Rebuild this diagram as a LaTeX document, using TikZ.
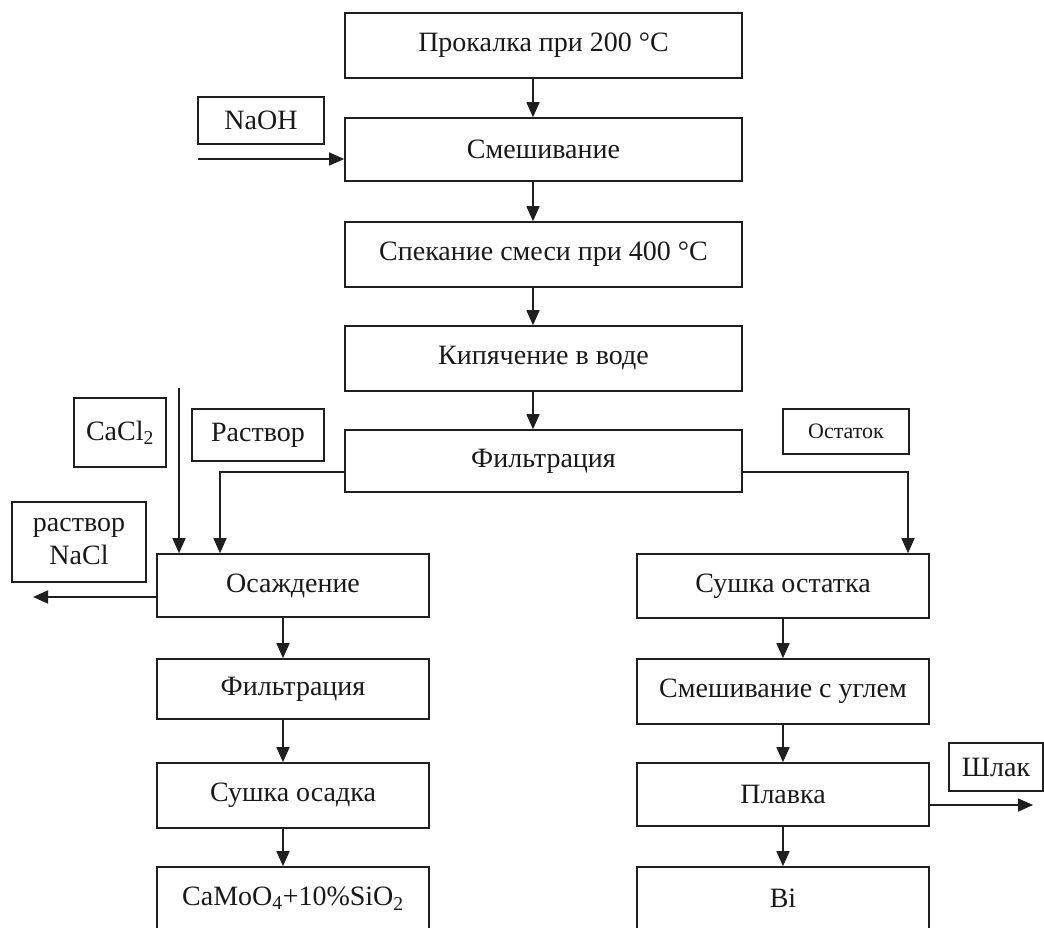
\documentclass[tikz,border=0pt]{standalone}
\usepackage{fontspec}
\setmainfont{Liberation Serif}
\usetikzlibrary{arrows.meta,calc}
\begin{document}
\begin{tikzpicture}[x=1pt,y=-1pt,
  box/.style={draw=black!88,line width=1.6pt,inner sep=0pt,align=center,
    font=\fontsize{28}{33}\selectfont,text=black!90},
  smallbox/.style={box,font=\fontsize{22}{26}\selectfont},
  arr/.style={draw=black!88,line width=1.6pt,-{Triangle[length=15pt,width=13pt]}},
  ln/.style={draw=black!88,line width=1.6pt}]
\useasboundingbox (0,0) rectangle (1044,927);
\clip (0,0) rectangle (1044,927);
% main column
\node[box,minimum width=397,minimum height=65] (p1) at (543.5,45.5) {Прокалка при 200 °C};
\node[box,minimum width=397,minimum height=63] (p2) at (543.5,149.5) {Смешивание};
\node[box,minimum width=397,minimum height=65] (p3) at (543.5,254.5) {Спекание смеси при 400 °C};
\node[box,minimum width=397,minimum height=65] (p4) at (543.5,358.5) {Кипячение в воде};
\node[box,minimum width=397,minimum height=62] (p5) at (543.5,461) {Фильтрация};
\node[box,minimum width=126,minimum height=47] (naoh) at (261,120.5) {NaOH};
% left column
\node[box,minimum width=272,minimum height=63] (l1) at (293,585.5) {Осаждение};
\node[box,minimum width=272,minimum height=60] (l2) at (293,689) {Фильтрация};
\node[box,minimum width=272,minimum height=65] (l3) at (293,795.5) {Сушка осадка};
\node[box,minimum width=272,minimum height=63] (l4) at (293,898.5) {CaMoO\textsubscript{4}+10\%SiO\textsubscript{2}};
\node[box,minimum width=92,minimum height=69] (cacl) at (120,432.5) {CaCl\textsubscript{2}};
\node[box,minimum width=132,minimum height=52] (rastv) at (258,435) {Раствор};
\node[box,minimum width=134,minimum height=80] (nacl) at (79,542) {раствор\\NaCl};
% right column
\node[box,minimum width=292,minimum height=64] (r1) at (783,586) {Сушка остатка};
\node[box,minimum width=292,minimum height=65] (r2) at (783,691.5) {Смешивание с углем};
\node[box,minimum width=292,minimum height=63] (r3) at (783,794.5) {Плавка};
\node[box,minimum width=292,minimum height=63] (r4) at (783,898.5) {Bi};
\node[smallbox,minimum width=126,minimum height=45] (ost) at (846,431.5) {Остаток};
\node[box,minimum width=94,minimum height=48] (shlak) at (996,767) {Шлак};
% coordinates
\coordinate (ax) at (533,0);
\coordinate (lx) at (283,0);
\coordinate (naohin) at (198,159);
\coordinate (caclin) at (179,388);
\coordinate (rastvx) at (220,472);
\coordinate (ostx) at (908,472);
\coordinate (naclout) at (33,597);
\coordinate (shlakout) at (1033,805);
% main arrows
\draw[arr] (p1.south -| ax) -- (p2.north -| ax);
\draw[arr] (p2.south -| ax) -- (p3.north -| ax);
\draw[arr] (p3.south -| ax) -- (p4.north -| ax);
\draw[arr] (p4.south -| ax) -- (p5.north -| ax);
\draw[arr] (naohin) -- (naohin -| p2.west);
% branches
\draw[arr] (rastvx -| p5.west) -- (rastvx) -- (rastvx |- l1.north);
\draw[arr] (ostx -| p5.east) -- (ostx) -- (ostx |- r1.north);
\draw[arr] (caclin) -- (caclin |- l1.north);
\draw[arr] (naclout -| l1.west) -- (naclout);
% left arrows
\draw[arr] (l1.south -| lx) -- (l2.north -| lx);
\draw[arr] (l2.south -| lx) -- (l3.north -| lx);
\draw[arr] (l3.south -| lx) -- (l4.north -| lx);
% right arrows
\draw[arr] (r1.south) -- (r2.north);
\draw[arr] (r2.south) -- (r3.north);
\draw[arr] (r3.south) -- (r4.north);
\draw[arr] (shlakout -| r3.east) -- (shlakout);
\end{tikzpicture}
\end{document}
